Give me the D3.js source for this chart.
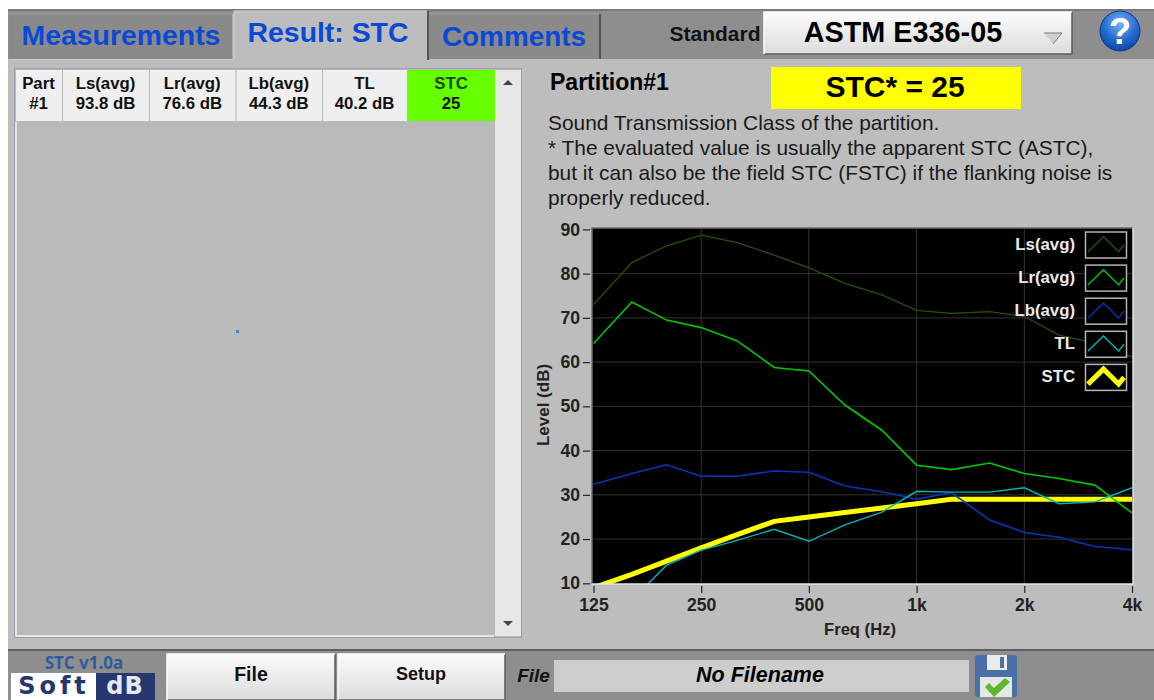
<!DOCTYPE html>
<html lang="en">
  <head>
    <meta charset="utf-8">
    <title>STC result</title>
    <script src="https://cdn.jsdelivr.net/npm/d3@7"></script>
    <style>
      html, body { margin: 0; padding: 0; background: #fff; overflow: hidden; }
      svg { display: block; font-family: "Liberation Sans", Arial, sans-serif; }
    </style>
  </head>
  <body>
    <script>
    // chart values
    var freqs = [125, 160, 200, 250, 315, 400, 500, 630, 800, 1000, 1250, 1600, 2000, 2500, 3150, 4000];
    var lsAvg = [73, 82.5, 86.3, 88.7, 87, 84.2, 81.3, 77.8, 75.2, 71.7, 71, 71.4, 70.3, 66.1, 64.3, 61.2];
    var lrAvg = [64.2, 73.6, 69.5, 67.8, 64.8, 58.8, 58, 50.3, 44.6, 36.7, 35.7, 37.2, 34.8, 33.7, 32.2, 25.9];
    var lbAvg = [32.4, 34.8, 36.8, 34.2, 34.2, 35.4, 35.1, 32, 30.7, 29, 30.5, 24.3, 21.5, 20.4, 18.3, 17.6];
    var tl = [6, 6.2, 14.1, 17.5, 19.7, 22.2, 19.5, 23.2, 26.1, 30.8, 30.6, 30.6, 31.6, 28, 28.4, 31.6];
    var stc = [9, 12, 15, 18, 21, 24, 25, 26, 27, 28, 29, 29, 29, 29, 29, 29];

    var seriesNames = ["Ls(avg)", "Lr(avg)", "Lb(avg)", "TL", "STC"];
    var seriesValues = [lsAvg, lrAvg, lbAvg, tl, stc];
    var seriesColors = ["#245400", "#00c800", "#0038b8", "#00b4bc", "#ffff00"];
    var seriesWidths = [1.3, 1.6, 1.6, 1.4, 5];

    var xTicks = [125, 250, 500, 1000, 2000, 4000];
    var xTickLabels = ["125", "250", "500", "1k", "2k", "4k"];
    var yTicks = [10, 20, 30, 40, 50, 60, 70, 80, 90];

    // little zigzag used in every legend box
    var legendU = [0, 0.43, 0.85, 1];
    var legendV = [0, 1, 0, 0.45];

    // results table
    var tableHead = ["Part", "Ls(avg)", "Lr(avg)", "Lb(avg)", "TL", "STC"];
    var tableRow = ["#1", "93.8 dB", "76.6 dB", "44.3 dB", "40.2 dB", "25"];
    var tableEdges = [15, 62, 149, 235.5, 322, 407, 495];

    var noteLines = [
      "Sound Transmission Class of the partition.",
      "* The evaluated value is usually the apparent STC (ASTC),",
      "but it can also be the field STC (FSTC) if the flanking noise is",
      "properly reduced."
    ];

    var w = 1154;
    var h = 700;

    var svg = d3.select("body").append("svg")
                .attr("width", w)
                .attr("height", h);

    var defs = svg.append("defs");

    var btnGrad = defs.append("linearGradient").attr("id", "btn")
                      .attr("x1", 0).attr("y1", 0).attr("x2", 0).attr("y2", 1);
    btnGrad.append("stop").attr("offset", 0).attr("stop-color", "#fbfbfb");
    btnGrad.append("stop").attr("offset", 1).attr("stop-color", "#dcdcdc");

    var helpGrad = defs.append("radialGradient").attr("id", "help")
                       .attr("cx", 0.5).attr("cy", 0.3).attr("r", 0.75);
    helpGrad.append("stop").attr("offset", 0).attr("stop-color", "#7ab4f4");
    helpGrad.append("stop").attr("offset", 0.6).attr("stop-color", "#1f66cc");
    helpGrad.append("stop").attr("offset", 1).attr("stop-color", "#0d3f96");

    var box = function(x, y, width, height, fill, stroke) {
      return svg.append("rect")
                .attr("x", x).attr("y", y)
                .attr("width", width).attr("height", height)
                .attr("fill", fill)
                .attr("stroke", stroke || "none");
    }

    var label = function(txt, x, y, size, opts) {
      opts = opts || {};
      return svg.append("text")
                .text(txt)
                .attr("x", x).attr("y", y)
                .attr("font-size", size)
                .attr("font-weight", opts.weight || "bold")
                .attr("font-style", opts.style || "normal")
                .attr("fill", opts.fill || "#111")
                .attr("text-anchor", opts.anchor || "middle");
    }

    var stroked = function(pts, color, width) {
      return svg.append("path")
                .attr("d", d3.line()(pts))
                .attr("fill", "none")
                .attr("stroke", color)
                .attr("stroke-width", width || 1);
    }

    var raised = function(x, y, width, height) {
      box(x, y, width, height, "url(#btn)");
      stroked([[x, y + height], [x + width, y + height], [x + width, y]], "#5c5c5c", 1.5);
      stroked([[x, y + height], [x, y], [x + width, y]], "#ffffff", 1.5);
    }

    // window background and bars
    box(8, 9, w - 8, 50, "#8e8e8e");
    box(8, 59, w - 8, 591, "#bdbdbd");
    box(8, 650, w - 8, 50, "#8e8e8e");
    box(8, 649, w - 8, 2, "#5f5f5f");
    box(8, 9, w - 8, 2, "#7a7a7a");

    // tabs
    box(9, 14, 223, 45, "#8a8a8a");
    stroked([[9, 14], [232, 14]], "#a4a4a4");
    stroked([[9, 59.5], [233, 59.5], [233, 14]], "#cfcfcf");
    box(429, 14, 170, 45, "#8a8a8a");
    stroked([[429, 14], [599, 14]], "#a4a4a4");
    box(599, 14, 2, 45, "#555");
    box(234, 11, 193, 50, "#bdbdbd");
    stroked([[234, 59], [234, 11], [427, 11]], "#d8d8d8");
    box(427, 11, 2, 49, "#555");
    label("Measurements", 121, 45, 28.4, {fill: "#0a48d8"});
    label("Result: STC", 328, 42, 28.4, {fill: "#0a48d8"});
    label("Comments", 514, 46, 27.9, {fill: "#0a48d8"});

    // standard selector and help button
    label("Standard", 715, 41, 21);
    raised(764, 12, 308, 42);
    label("ASTM E336-05", 903, 42, 28.8, {fill: "#000"});
    svg.append("path")
       .attr("d", d3.line()([[1044, 33], [1062, 33], [1053, 44]]))
       .attr("fill", "#d0d0d0").attr("stroke", "#7a7a7a");
    svg.append("circle").attr("cx", 1120).attr("cy", 31).attr("r", 20)
       .attr("fill", "url(#help)").attr("stroke", "#0b3a8c");
    label("?", 1120, 44, 36, {fill: "#fff"});

    // results table
    box(14.5, 68.5, 507, 569, "#b9b9b9", "#9aa0aa");
    stroked([[16, 122], [16, 636], [494, 636]], "#f4f4f4", 1.5);
    box(495, 70, 26, 566, "#e6e6e6");
    tableHead.forEach(function(d, i) {
      var x0 = tableEdges[i], x1 = tableEdges[i + 1];
      var isStc = d === "STC";
      box(x0 + 1, 70, x1 - x0 - 1, 51, isStc ? "#66ff00" : "#efefef");
      label(d, (x0 + x1) / 2, 89, 16.8, {fill: isStc ? "#154a00" : "#111"});
      label(tableRow[i], (x0 + x1) / 2, 109, 16.8);
    });
    svg.append("path").attr("d", d3.line()([[503, 85], [513, 85], [508, 80]])).attr("fill", "#444");
    svg.append("path").attr("d", d3.line()([[503, 621], [513, 621], [508, 626]])).attr("fill", "#444");
    box(236, 330, 3, 3, "#3a86e8");

    // right hand header
    label("Partition#1", 550, 90, 23, {anchor: "start", fill: "#000"});
    box(771, 67, 250, 42, "#ffff00");
    label("STC* = 25", 895, 97, 30, {fill: "#000"});
    noteLines.forEach(function(d, i) {
      label(d, 548, 130 + i * 25, 20.9, {anchor: "start", weight: "normal", fill: "#1a1a1a"});
    });

    // chart
    var xScale = d3.scaleLog().base(2).domain([125, 4000]).range([593.5, 1132]);
    var yScale = d3.scaleLinear().domain([10, 90]).range([583.3, 229.4]);

    var plotX = 592, plotY = 228, plotW = 541, plotH = 356;

    box(plotX, plotY, plotW, plotH, "#000");

    defs.append("clipPath").attr("id", "plotClip")
        .append("rect")
        .attr("x", plotX).attr("y", plotY)
        .attr("width", plotW).attr("height", plotH);

    var grid = svg.append("g").attr("stroke", "#333").attr("stroke-width", 1);
    grid.selectAll(".gy").data(yTicks.slice(1, -1)).enter().append("line")
        .attr("x1", plotX).attr("x2", plotX + plotW)
        .attr("y1", function(d) { return yScale(d); })
        .attr("y2", function(d) { return yScale(d); });
    grid.selectAll(".gx").data(xTicks.slice(1, -1)).enter().append("line")
        .attr("y1", plotY).attr("y2", plotY + plotH)
        .attr("x1", function(d) { return xScale(d); })
        .attr("x2", function(d) { return xScale(d); });

    var line = d3.line()
                 .x(function(d, i) { return xScale(freqs[i]); })
                 .y(function(d) { return yScale(d); });

    // STC drawn first, the thin curves cross over it
    var drawOrder = [4, 0, 1, 2, 3];
    svg.append("g").attr("clip-path", "url(#plotClip)")
       .selectAll("path")
       .data(drawOrder)
       .enter()
       .append("path")
       .attr("d", function(k) { return line(seriesValues[k]); })
       .attr("fill", "none")
       .attr("stroke", function(k) { return seriesColors[k]; })
       .attr("stroke-width", function(k) { return seriesWidths[k]; });

    // plot frame
    stroked([[plotX, plotY + plotH], [plotX, plotY], [plotX + plotW, plotY]], "#6e6e6e", 1.5);
    stroked([[plotX, plotY + plotH], [plotX + plotW, plotY + plotH], [plotX + plotW, plotY]], "#e2e2e2", 1.5);

    var yAxis = d3.axisLeft(yScale).tickValues(yTicks).tickSize(7).tickPadding(3);
    var xAxis = d3.axisBottom(xScale).tickValues(xTicks).tickSize(7).tickPadding(6)
                  .tickFormat(function(d) { return xTickLabels[xTicks.indexOf(d)]; });

    var yG = svg.append("g").attr("transform", "translate(590,0)").call(yAxis);
    var xG = svg.append("g").attr("transform", "translate(0,586)").call(xAxis);
    [yG, xG].forEach(function(g) {
      g.select(".domain").remove();
      g.selectAll("line").attr("stroke", "#222").attr("stroke-width", 1.2);
      g.selectAll("text")
       .attr("font-family", "Liberation Sans, Arial, sans-serif")
       .attr("font-size", 17.6).attr("font-weight", "bold").attr("fill", "#222");
    });

    label("Level (dB)", 0, 0, 17, {fill: "#222"})
      .attr("transform", "translate(549,405) rotate(-90)");
    label("Freq (Hz)", 860, 635, 16.6, {fill: "#222"});

    // legend
    var swatchX = d3.scaleLinear().domain([0, 1]).range([1088, 1124]);
    var swatchY = d3.scaleLinear().domain([0, 1]).range([19.7, 4.7]);
    var swatchLine = d3.line()
                       .x(function(d, i) { return swatchX(legendU[i]); })
                       .y(function(d) { return swatchY(d); });
    seriesNames.forEach(function(d, i) {
      var y0 = 232 + i * 33.1;
      box(1085.5, y0, 41, 26, "#000", "#b4b4b4").attr("stroke-width", 1.5);
      label(d, 1075, y0 + 18, 16.8, {anchor: "end", fill: "#eaeaea"});
      svg.append("path")
         .attr("transform", "translate(0," + y0 + ")")
         .attr("d", swatchLine(legendV))
         .attr("fill", "none")
         .attr("stroke", seriesColors[i])
         .attr("stroke-width", i === 4 ? 5 : 1.4);
    });

    // bottom bar
    label("STC v1.0a", 84, 669, 17, {fill: "#2f5b9c"}).attr("font-family", "Open Sans");
    box(11, 673, 85, 27, "#ffffff");
    box(96, 673, 59, 27, "#26366f");
    label("Soft", 54, 694, 24, {fill: "#26366f"})
      .attr("font-family", "DejaVu Sans").attr("letter-spacing", 4);
    label("dB", 125, 694, 24, {fill: "#e8e8f0"})
      .attr("font-family", "DejaVu Sans").attr("letter-spacing", 1);

    raised(167, 654, 168, 46);
    raised(338, 654, 167, 46);
    label("File", 251, 681, 19.5);
    label("Setup", 421, 680, 18);

    label("File", 533.5, 682, 19, {style: "italic"});
    box(554, 660, 415, 32, "#cdcdcd");
    label("No Filename", 760, 682, 21.5, {style: "italic", fill: "#000"});

    // floppy icon
    box(975, 655, 42, 42, "#486fa6").attr("rx", 3);
    box(987, 655, 20, 15, "#ececec");
    box(1000, 657, 4, 11, "#486fa6");
    box(980, 677, 32, 20, "#e4e8e4");
    svg.append("path")
       .attr("d", d3.line()([[985, 687], [989, 683], [994, 688], [1005, 678], [1010, 682], [994, 697]]))
       .attr("fill", "#5cb82c");
    </script>
  </body>
</html>
